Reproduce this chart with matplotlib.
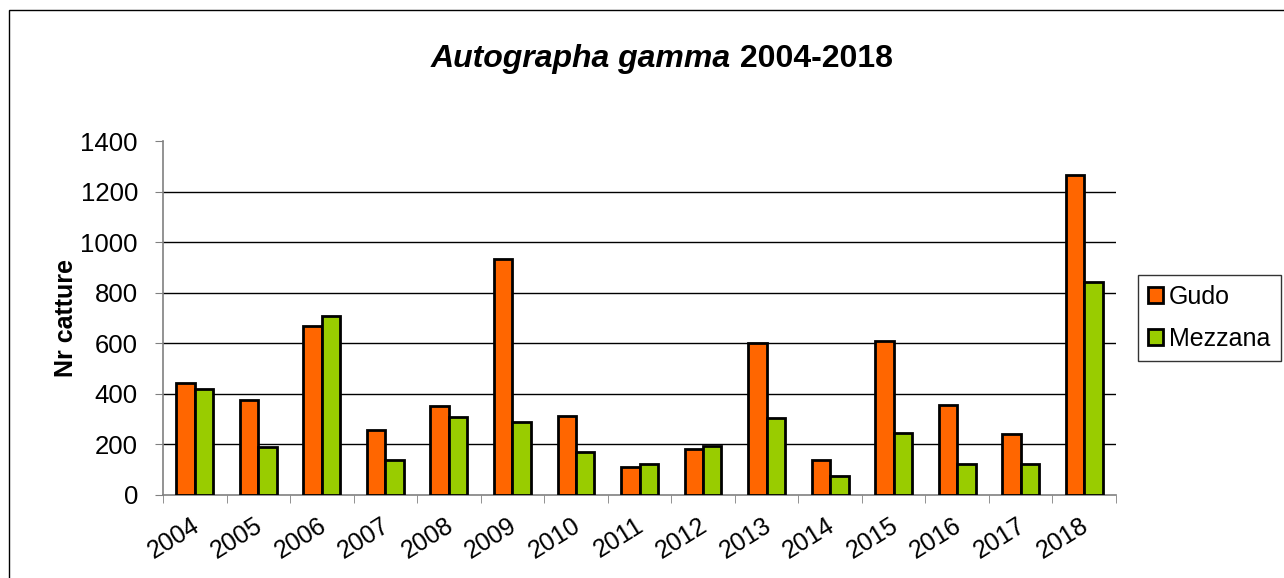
import matplotlib
matplotlib.use("Agg")
import matplotlib.pyplot as plt
import matplotlib.transforms as mtransforms
import numpy as np
from matplotlib.patches import Rectangle, Patch

plt.rcParams['font.family'] = ['Liberation Sans', 'DejaVu Sans']

years = ['2004', '2005', '2006', '2007', '2008', '2009', '2010', '2011',
         '2012', '2013', '2014', '2015', '2016', '2017', '2018']
gudo = [444, 376, 667, 258, 351, 935, 313, 109, 182, 602, 137, 609, 355, 242, 1264]
mezzana = [421, 189, 707, 140, 308, 289, 170, 123, 192, 305, 76, 246, 123, 123, 844]

c_gudo = '#FF6600'
c_mezz = '#99CC00'

fig = plt.figure(figsize=(12.84, 5.78), dpi=100)
ax = fig.add_axes([163 / 1284, 1 - 495 / 578, (1116 - 163) / 1284, (495 - 141) / 578])

x = np.arange(len(years))
w = 0.29
ax.bar(x - w / 2, gudo, w, color=c_gudo, edgecolor='black', linewidth=2, zorder=3)
ax.bar(x + w / 2, mezzana, w, color=c_mezz, edgecolor='black', linewidth=2, zorder=3)

ax.set_xlim(-0.5, len(years) - 0.5)
ax.set_ylim(0, 1400)
ax.set_yticks(range(0, 1401, 200))
ax.tick_params(axis='y', labelsize=18.5, length=6, color='#808080', pad=12)
for yv in range(200, 1400, 200):
    ax.axhline(yv, color='black', linewidth=1, zorder=1)

ax.set_xticks(x)
ax.set_xticklabels(years, rotation=32, ha='right', rotation_mode='anchor', fontsize=18)
ax.tick_params(axis='x', length=0, pad=13)
shift = mtransforms.ScaledTranslation(-4 / 100, 0, fig.dpi_scale_trans)
for lbl in ax.get_xticklabels():
    lbl.set_transform(lbl.get_transform() + shift)
ax.set_xticks(np.arange(-0.5, len(years), 1), minor=True)
ax.tick_params(axis='x', which='minor', length=6, color='#808080')

for s in ['top', 'right']:
    ax.spines[s].set_visible(False)
for s in ['left', 'bottom']:
    ax.spines[s].set_color('#808080')
    ax.spines[s].set_linewidth(1.2)

ax.set_ylabel('Nr catture', fontsize=18, fontweight='bold')
ax.yaxis.set_label_coords((78 - 163) / (1116 - 163), 0.5)

# title: italic species name + bold years
fig.canvas.draw()
r = fig.canvas.get_renderer()
t1 = fig.text(0, 0, 'Autographa gamma', fontsize=23, fontweight='bold', style='italic')
t2 = fig.text(0, 0, ' 2004-2018', fontsize=23, fontweight='bold')
w1 = t1.get_window_extent(r).width
w2 = t2.get_window_extent(r).width
x0 = (662 - (w1 + w2) / 2) / 1284
yt = 1 - 67 / 578
t1.set_position((x0, yt))
t2.set_position((x0 + w1 / 1284, yt))

handles = [Patch(facecolor=c_gudo, edgecolor='black', linewidth=2, label='Gudo'),
           Patch(facecolor=c_mezz, edgecolor='black', linewidth=2, label='Mezzana')]
leg = fig.legend(handles=handles, loc='upper left', bbox_to_anchor=(1138 / 1284, 1 - 275 / 578),
                 fontsize=18, frameon=True, fancybox=False, edgecolor='black',
                 handlelength=0.6, handleheight=0.6, handletextpad=0.25,
                 labelspacing=0.7, borderpad=0.4, borderaxespad=0)
leg.get_frame().set_linewidth(1)

fig.patches.append(Rectangle((9 / 1284, -0.01), 1.1, 1 - 10 / 578 + 0.01, transform=fig.transFigure,
                             fill=False, edgecolor='black', linewidth=1))

fig.savefig('out.png', dpi=100)
